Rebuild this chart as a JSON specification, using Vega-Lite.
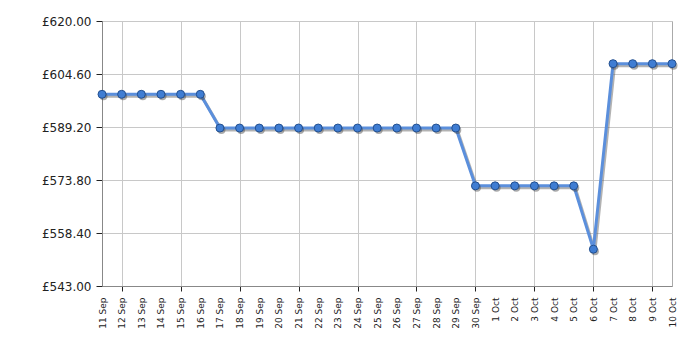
{
  "$schema": "https://vega.github.io/schema/vega-lite/v6.json",
  "width": 570,
  "height": 265,
  "autosize": {"type": "none"},
  "padding": {"left": 102, "top": 21, "right": 28, "bottom": 64},
  "background": "white",
  "config": {
    "view": {"stroke": "#aaaaaa", "strokeWidth": 1},
    "font": "DejaVu Sans"
  },
  "data": {
    "values": [
      {"date": "11 Sep", "price": 598.7},
      {"date": "12 Sep", "price": 598.7},
      {"date": "13 Sep", "price": 598.7},
      {"date": "14 Sep", "price": 598.7},
      {"date": "15 Sep", "price": 598.7},
      {"date": "16 Sep", "price": 598.7},
      {"date": "17 Sep", "price": 588.9},
      {"date": "18 Sep", "price": 588.9},
      {"date": "19 Sep", "price": 588.9},
      {"date": "20 Sep", "price": 588.9},
      {"date": "21 Sep", "price": 588.9},
      {"date": "22 Sep", "price": 588.9},
      {"date": "23 Sep", "price": 588.9},
      {"date": "24 Sep", "price": 588.9},
      {"date": "25 Sep", "price": 588.9},
      {"date": "26 Sep", "price": 588.9},
      {"date": "27 Sep", "price": 588.9},
      {"date": "28 Sep", "price": 588.9},
      {"date": "29 Sep", "price": 588.9},
      {"date": "30 Sep", "price": 572.1},
      {"date": "1 Oct", "price": 572.1},
      {"date": "2 Oct", "price": 572.1},
      {"date": "3 Oct", "price": 572.1},
      {"date": "4 Oct", "price": 572.1},
      {"date": "5 Oct", "price": 572.1},
      {"date": "6 Oct", "price": 553.7},
      {"date": "7 Oct", "price": 607.6},
      {"date": "8 Oct", "price": 607.6},
      {"date": "9 Oct", "price": 607.6},
      {"date": "10 Oct", "price": 607.6}
    ]
  },
  "encoding": {
    "x": {
      "field": "date",
      "type": "ordinal",
      "sort": null,
      "scale": {"type": "point", "padding": 0},
      "axis": {
        "title": null,
        "labelAngle": -90,
        "labelFontSize": 9,
        "labelColor": "#222222",
        "labelPadding": 6,
        "domainColor": "#888888",
        "tickColor": "#222222",
        "tickSize": 5,
        "tickOpacity": {"condition": {"test": "indexof(['12 Sep','15 Sep','18 Sep','21 Sep','24 Sep','27 Sep','30 Sep','3 Oct','6 Oct','9 Oct'], datum.value) >= 0", "value": 1}, "value": 0},
        "grid": true,
        "gridColor": "#c8c8c8",
        "gridOpacity": {"condition": {"test": "indexof(['12 Sep','15 Sep','18 Sep','21 Sep','24 Sep','27 Sep','30 Sep','3 Oct','6 Oct','9 Oct'], datum.value) >= 0", "value": 1}, "value": 0}
      }
    },
    "y": {
      "field": "price",
      "type": "quantitative",
      "scale": {"domain": [543, 620], "zero": false, "nice": false},
      "axis": {
        "title": null,
        "values": [543, 558.4, 573.8, 589.2, 604.6, 620],
        "labelExpr": "'£' + format(datum.value, '.2f')",
        "labelFontSize": 12,
        "labelColor": "#222222",
        "labelPadding": 5,
        "domainColor": "#888888",
        "tickColor": "#222222",
        "tickSize": 6,
        "gridColor": "#c8c8c8"
      }
    }
  },
  "layer": [
    {"mark": {"type": "line", "color": "#555555", "opacity": 0.45, "strokeWidth": 3, "xOffset": 1.5, "yOffset": 2}},
    {"mark": {"type": "line", "color": "#5b8fdc", "strokeWidth": 3}},
    {"mark": {"type": "point", "filled": true, "color": "#444444", "opacity": 0.45, "size": 64, "xOffset": 1.5, "yOffset": 2}},
    {"mark": {"type": "point", "filled": true, "fill": "#3f7dd3", "stroke": "#24508f", "strokeWidth": 1, "opacity": 1, "size": 64}}
  ]
}
